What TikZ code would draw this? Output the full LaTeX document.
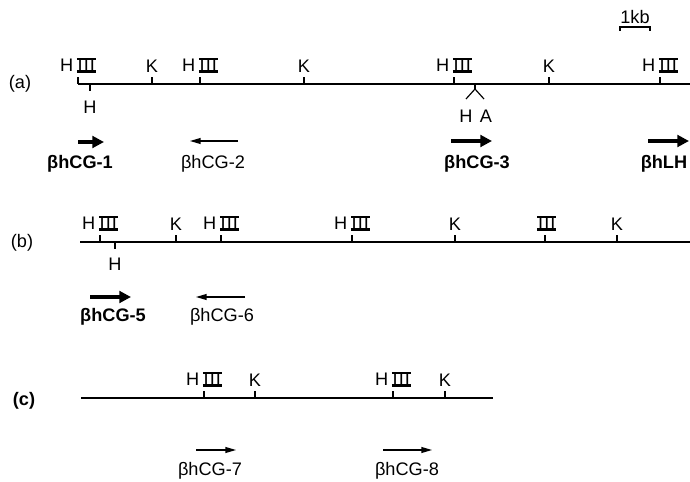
\documentclass[tikz,border=0pt]{standalone}
\usepackage{fontspec}
\setmainfont{Liberation Sans}
\usetikzlibrary{arrows.meta}
% roman three with bars on top and bottom
\newcommand{\romiii}{\kern0.2em\setbox0\hbox{\kern0.04em I\kern0.06em I\kern0.06em I\kern0.04em}%
  \rlap{\rule[-0.12ex]{\wd0}{0.22ex}}\rlap{\rule[\dimexpr\ht0-0.12ex]{\wd0}{0.22ex}}\box0}
\tikzset{
  site/.style={font=\fontsize{15.5}{17}\selectfont, inner sep=1pt},
  probe/.style={font=\fontsize{15.5}{17}\selectfont\bfseries, inner sep=1pt},
  probethin/.style={font=\fontsize{15.5}{17}\selectfont, inner sep=1pt},
  fat/.style={line width=3.6pt, -{Triangle[length=10pt,width=10pt]}},
  slim/.style={line width=1pt, -{Triangle[length=9pt,width=5pt]}},
  map/.style={line width=1.3pt},
  tick/.style={line width=1pt}
}
\begin{document}
\begin{tikzpicture}[x=0.03cm,y=-0.03cm]
  \useasboundingbox (0,0) rectangle (690,482);

  % (a)
  \node (la) at (20,84) [site] {(a)};
  \coordinate (a0) at (78,84);
  \coordinate (a1) at (690,84);
  \draw[map] (a0) -- (a1);
  \foreach \x/\t [count=\i] in {78/H\romiii,152/K,200/H\romiii,304/K,454/H\romiii,549/K,660/H\romiii}{
    \draw[tick] (\x,84) -- (\x,77);
    \node (sa\i) at (\x,74) [site,anchor=south] {\t};
  }
  \draw[tick] (90,84) -- (90,91);
  \node (ha) at (90,100) [site,anchor=north] {H};
  \draw[tick] (475,84) -- (475,89) coordinate (fk);
  \draw[tick] (fk) -- (466,99);
  \draw[tick] (fk) -- (484,99);
  \node (hh) at (466,109) [site,anchor=north] {H};
  \node (aa) at (486,109) [site,anchor=north] {A};
  % scale
  \draw[tick] (620,31) -- (620,27) -- (650,27) -- (650,31);
  \node (kb) at (635,25) [site,anchor=south] {1kb};

  \coordinate (p1s) at (78,142); \coordinate (p1e) at (104,142);
  \draw[fat] (p1s) -- (p1e);
  \node (p1) at (80,164) [probe] {βhCG-1};
  \coordinate (p2s) at (238,141); \coordinate (p2e) at (190,141);
  \draw[slim] (p2s) -- (p2e);
  \node (p2) at (213,164) [probethin] {βhCG-2};
  \coordinate (p3s) at (451,141); \coordinate (p3e) at (492,141);
  \draw[fat] (p3s) -- (p3e);
  \node (p3) at (477,164) [probe] {βhCG-3};
  \coordinate (p4s) at (648,141); \coordinate (p4e) at (689,141);
  \draw[fat] (p4s) -- (p4e);
  \node (p4) at (664,164) [probe] {βhLH};

  % (b)
  \node (lb) at (22,243) [site] {(b)};
  \coordinate (b0) at (80,242);
  \coordinate (b1) at (690,242);
  \draw[map] (b0) -- (b1);
  \foreach \x/\t [count=\i] in {100/H\romiii,176/K,221/H\romiii,352/H\romiii,455/K,545/\romiii,617/K}{
    \draw[tick] (\x,242) -- (\x,235);
    \node (sb\i) at (\x,232) [site,anchor=south] {\t};
  }
  \draw[tick] (115,242) -- (115,249);
  \node (hb) at (115,257) [site,anchor=north] {H};

  \coordinate (p5s) at (90,297); \coordinate (p5e) at (131,297);
  \draw[fat] (p5s) -- (p5e);
  \node (p5) at (113,317) [probe] {βhCG-5};
  \coordinate (p6s) at (245,297); \coordinate (p6e) at (196,297);
  \draw[slim] (p6s) -- (p6e);
  \node (p6) at (222,317) [probethin] {βhCG-6};

  % (c)
  \node (lc) at (24,401) [site,font=\fontsize{15.5}{17}\selectfont\bfseries] {(c)};
  \coordinate (c0) at (81,398);
  \coordinate (c1) at (493,398);
  \draw[map] (c0) -- (c1);
  \foreach \x/\t [count=\i] in {204/H\romiii,255/K,393/H\romiii,445/K}{
    \draw[tick] (\x,398) -- (\x,391);
    \node (sc\i) at (\x,388) [site,anchor=south] {\t};
  }
  \coordinate (p7s) at (196,450); \coordinate (p7e) at (236,450);
  \draw[slim] (p7s) -- (p7e);
  \node (p7) at (210,471) [probethin] {βhCG-7};
  \coordinate (p8s) at (383,450); \coordinate (p8e) at (432,450);
  \draw[slim] (p8s) -- (p8e);
  \node (p8) at (407,471) [probethin] {βhCG-8};
\end{tikzpicture}
\end{document}
